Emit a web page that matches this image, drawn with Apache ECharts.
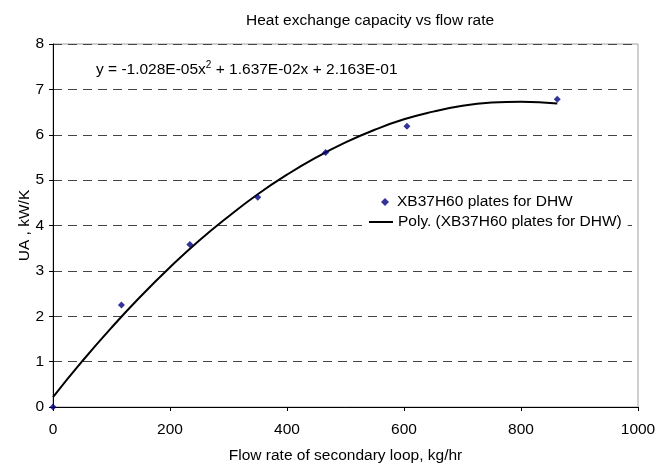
<!DOCTYPE html>
<html>
<head>
<meta charset="utf-8">
<script src="https://cdn.jsdelivr.net/npm/echarts@6/dist/echarts.min.js"></script>
<style>
html, body { margin: 0; padding: 0; background: #fff; }
#chart { width: 656px; height: 466px; }
</style>
</head>
<body>
<div id="chart"></div>
<script>
// measured points (flow rate, UA)
var flowRate = [0, 117, 234, 350, 466, 605, 862];
var uaValues = [0, 2.25, 3.58, 4.62, 5.61, 6.19, 6.78];

// trendline
var trendX = [0, 50, 100, 150, 200, 250, 300, 350, 400, 450, 500, 550, 600, 650, 700, 750, 800, 862];
var trendY = [0.22, 1.01, 1.75, 2.44, 3.08, 3.67, 4.20, 4.69, 5.12, 5.50, 5.83, 6.11, 6.34, 6.51, 6.64, 6.71, 6.73, 6.69];

var seriesName = 'XB37H60 plates for DHW';
var trendName = 'Poly. (XB37H60 plates for DHW)';
var equationText = ['y = -1.028E-05x', '2', ' + 1.637E-02x + 2.163E-01'];

function pairs(xs, ys) {
    var out = [];
    for (var i = 0; i < xs.length; i++) {
        out.push([xs[i], ys[i]]);
    }
    return out;
}

var fontName = 'Liberation Sans';
var fontSize = 15.5;
var chartDom = echarts.init(document.getElementById('chart'), null, { renderer: 'canvas' });

var chartOptions = {
    backgroundColor: '#ffffff',
    animation: false,
    textStyle: { fontFamily: fontName },
    title: {
        text: 'Heat exchange capacity vs flow rate',
        left: 241,
        top: 8,
        textStyle: { fontFamily: fontName, fontSize: fontSize, fontWeight: 'normal', color: '#000' }
    },
    grid: {
        left: 53,
        right: 18,
        top: 44,
        bottom: 59,
        outerBoundsMode: 'none',
        show: true,
        borderColor: '#a0a0a0',
        borderWidth: 1
    },
    legend: [
        {
            data: [{ name: seriesName, icon: 'diamond' }],
            left: 378,
            top: 191,
            padding: [3, 6, 2, 3],
            backgroundColor: '#fff',
            itemWidth: 8,
            itemHeight: 8,
            textStyle: { fontFamily: fontName, fontSize: fontSize, color: '#000', padding: [0, 0, 0, 3] }
        },
        {
            data: [{ name: trendName, icon: 'rect' }],
            left: 366,
            top: 212,
            padding: [2, 6, 3, 3],
            backgroundColor: '#fff',
            itemWidth: 24,
            itemHeight: 2,
            textStyle: { fontFamily: fontName, fontSize: fontSize, color: '#000' }
        }
    ],
    xAxis: {
        type: 'value',
        min: 0,
        max: 1000,
        interval: 200,
        name: 'Flow rate of secondary loop, kg/hr',
        nameLocation: 'middle',
        nameGap: 41,
        nameMoveOverlap: false,
        nameTextStyle: { fontFamily: fontName, fontSize: fontSize, color: '#000' },
        axisLine: { show: true, lineStyle: { color: '#000', width: 1 } },
        axisTick: { show: true, inside: false, length: 4, lineStyle: { color: '#000' } },
        axisLabel: {
            fontFamily: fontName, fontSize: fontSize, color: '#000', margin: 15,
            formatter: function (v) { return String(v); }
        },
        splitLine: { show: false }
    },
    yAxis: {
        type: 'value',
        min: 0,
        max: 8,
        interval: 1,
        name: 'UA , kW/K',
        nameLocation: 'middle',
        nameGap: 20,
        nameMoveOverlap: false,
        nameTextStyle: { fontFamily: fontName, fontSize: fontSize, color: '#000' },
        axisLine: { show: true, lineStyle: { color: '#000', width: 1 } },
        axisTick: { show: true, inside: false, length: 4, lineStyle: { color: '#000' } },
        axisLabel: { fontFamily: fontName, fontSize: fontSize, color: '#000', margin: 9 },
        splitLine: { show: true, lineStyle: { color: '#444', width: 1, type: [9, 6] } }
    },
    graphic: [
        {
            type: 'text',
            left: 96,
            top: 60,
            style: {
                text: '{a|' + equationText[0] + '}{s|' + equationText[1] + '}{a|' + equationText[2] + '}',
                rich: {
                    a: { fontFamily: fontName, fontSize: fontSize, color: '#000', lineHeight: 19 },
                    s: { fontFamily: fontName, fontSize: 10, color: '#000', lineHeight: 19, verticalAlign: 'top', padding: [0, 0, 7, 0] }
                }
            }
        }
    ],
    series: [
        {
            name: trendName,
            type: 'line',
            data: pairs(trendX, trendY),
            smooth: true,
            symbol: 'none',
            lineStyle: { color: '#000', width: 2 },
            itemStyle: { color: '#000' },
            z: 3
        },
        {
            name: seriesName,
            type: 'scatter',
            data: pairs(flowRate, uaValues),
            symbol: 'diamond',
            symbolSize: 7,
            itemStyle: { color: '#000080' },
            z: 4
        }
    ]
};

chartDom.setOption(chartOptions, true);
</script>
</body>
</html>
